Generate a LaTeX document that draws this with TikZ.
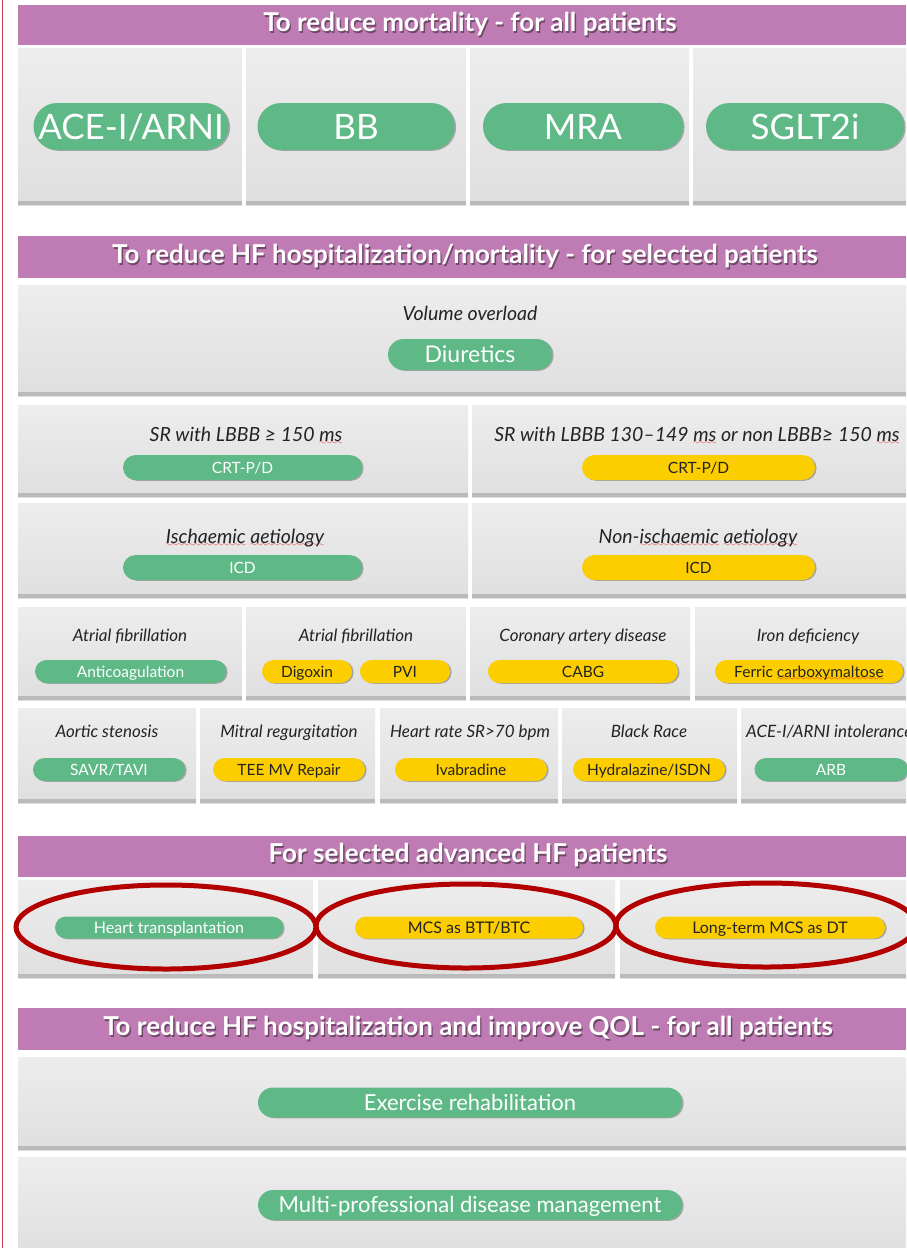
\documentclass[tikz,border=0pt]{standalone}
\usepackage{fontspec}
\setmainfont{Lato}
\usepackage{tikz}
\usetikzlibrary{positioning,fit,shapes.geometric,shadows}

\definecolor{hdrpurple}{RGB}{191,123,179}
\definecolor{hdrshade}{RGB}{112,72,104}
\definecolor{pillgreen}{RGB}{94,185,135}
\definecolor{pillyellow}{RGB}{252,206,0}
\definecolor{cellhi}{RGB}{237,237,237}
\definecolor{celllo}{RGB}{223,223,223}
\definecolor{celledge}{RGB}{186,186,186}
\definecolor{ringred}{RGB}{178,0,0}
\definecolor{sidered}{RGB}{200,60,70}
\definecolor{labgrey}{RGB}{35,35,35}
\definecolor{squig}{RGB}{225,0,0}

% red spell-check wave under a word
\font\wavefont=lasy7
\newcommand\spellmark[1]{\setbox0\hbox{#1}%
  \rlap{\textcolor{squig}{\lower3pt\hbox to\wd0{\xleaders\hbox{\wavefont\char58}\hfill}}}\box0\relax}
% header text with a soft dark shadow
\newcommand\hdrtext[1]{\makebox[0pt][l]{\kern1.3pt\raisebox{-1.5pt}{\textcolor{hdrshade}{#1}}}#1}

\begin{document}
\begin{tikzpicture}[
  x=1pt,y=-1pt,
  hdr/.style={fill=hdrpurple,inner sep=0pt},
  htxt/.style={font=\fontsize{26}{30}\selectfont\bfseries,text=white,inner sep=0pt},
  cell/.style={inner sep=0pt,top color=cellhi,bottom color=celllo,
               path picture={\fill[celledge] (path picture bounding box.south west)
                 rectangle ([yshift=4pt]path picture bounding box.south east);}},
  lab/.style={font=\fontsize{17}{20}\selectfont\itshape,text=labgrey,
              inner sep=0pt,anchor=base},
  biglab/.style={font=\fontsize{19.5}{23}\selectfont\itshape},
  pill/.style={rectangle,rounded corners=12.5pt,inner sep=0pt,minimum height=25pt,
               text height=11pt,text depth=0pt,font=\fontsize{15.5}{18}\selectfont,
               drop shadow={shadow xshift=1.6pt,shadow yshift=-0.8pt,
                            fill=black!60,opacity=0.5}},
  gpill/.style={pill,fill=pillgreen,text=white},
  ypill/.style={pill,fill=pillyellow,text=labgrey},
  bigpill/.style={minimum height=47pt,rounded corners=23.5pt,text height=25pt,
                  font=\fontsize{35}{40}\selectfont},
  midpill/.style={minimum height=31pt,rounded corners=15.5pt,text height=16.5pt,
                  font=\fontsize{23}{27}\selectfont},
  smallpill/.style={minimum height=23pt,rounded corners=11.5pt},
  advpill/.style={minimum height=22pt,rounded corners=11pt,text height=11.5pt,
                  font=\fontsize{16}{19}\selectfont},
  qolpill/.style={minimum height=30pt,rounded corners=15pt,text height=15.8pt,
                  font=\fontsize{22}{26}\selectfont},
  ring/.style={ellipse,draw=ringred,line width=5pt,minimum width=300pt,
               minimum height=84pt}
]
\useasboundingbox[fill=white] (0,0) rectangle (906,1248);
\draw[sidered,line width=1.5pt] (2.5,0) -- (2.5,1248);

% --- to reduce mortality
\node[hdr,fit={(18,5) (906,45)}] (hmort) {};
\node[htxt] (tmort) at (470,25) {\hdrtext{To reduce mortality - for all patients}};
\node[cell,fit={(18,48) (242,205)}]  (cace)  {};
\node[cell,fit={(246,48) (466,205)}] (cbb)   {};
\node[cell,fit={(470,48) (689,205)}] (cmra)  {};
\node[cell,fit={(693,48) (906,205)}] (csglt) {};
\node[gpill,bigpill,minimum width=195] (pace)  at (131,126.5) {ACE-I/ARNI};
\node[gpill,bigpill,minimum width=197] (pbb)   at (356,126.5) {BB};
\node[gpill,bigpill,minimum width=200] (pmra)  at (583,126.5) {MRA};
\node[gpill,bigpill,minimum width=198] (psglt) at (805,126.5) {SGLT2i};

% --- selected patients
\node[hdr,fit={(18,236) (906,278)}] (hsel) {};
\node[htxt] (tsel) at (465,257) {\hdrtext{To reduce HF hospitalization/mortality - for selected patients}};
\node[cell,fit={(18,285) (906,396)}] (cvol) {};
\node[lab,biglab] (lvol) at (470,320) {Volume overload};
\node[gpill,midpill,minimum width=164] (pdiu) at (470,354.5) {Diuretics};

\node[cell,fit={(18,405) (468,497)}]  (clbbb)  {};
\node[cell,fit={(472,405) (906,497)}] (cnlbbb) {};
\node[lab,biglab] (llbbb)  at (246,441) {SR with LBBB ≥ 150 \spellmark{ms}};
\node[lab,biglab] (lnlbbb) at (697,441) {SR with LBBB 130–149 \spellmark{ms} or non LBBB≥ 150 \spellmark{ms}};
\node[gpill,minimum width=239] (pcrt)  at (242.5,467.5) {CRT-P/D};
\node[ypill,minimum width=233] (pcrtb) at (698.5,467.5) {CRT-P/D};

\node[cell,fit={(18,503) (468,598)}]  (cisch)  {};
\node[cell,fit={(472,503) (906,598)}] (cnisch) {};
\node[lab,biglab] (lisch)  at (245,543) {\spellmark{Ischaemic} \spellmark{aetiology}};
\node[lab,biglab] (lnisch) at (698,543) {Non-\spellmark{ischaemic} \spellmark{aetiology}};
\node[gpill,minimum width=239] (picd)  at (242.5,567.5) {ICD};
\node[ypill,minimum width=233] (picdb) at (698.5,567.5) {ICD};

\node[cell,fit={(18,607) (242,700)}]  (caf)   {};
\node[cell,fit={(246,607) (466,700)}] (cafb)  {};
\node[cell,fit={(470,607) (690,700)}] (ccad)  {};
\node[cell,fit={(695,607) (906,700)}] (ciron) {};
\node[lab] (laf)   at (130,641) {Atrial fibrillation};
\node[lab] (lafb)  at (356,641) {Atrial fibrillation};
\node[lab] (lcad)  at (583,641) {Coronary artery disease};
\node[lab] (liron) at (808,641) {Iron deficiency};
\node[gpill,smallpill,minimum width=191] (panti) at (130.5,671.5) {Anticoagulation};
\node[ypill,smallpill,minimum width=90]  (pdig)  at (307,671.5) {Digoxin};
\node[ypill,smallpill,minimum width=90]  (ppvi)  at (405,671.5) {PVI};
\node[ypill,smallpill,minimum width=190] (pcabg) at (583,671.5) {CABG};
\node[ypill,smallpill,minimum width=188] (pfcm)  at (809,671.5) {Ferric \spellmark{carboxymaltose}};

\node[cell,fit={(18,708) (196,803)}]  (cas)  {};
\node[cell,fit={(200,708) (375,803)}] (cmr)  {};
\node[cell,fit={(380,708) (558,803)}] (chr)  {};
\node[cell,fit={(562,708) (737,803)}] (cbr)  {};
\node[cell,fit={(741,708) (906,803)}] (cint) {};
\node[lab] (las)  at (107,737) {Aortic stenosis};
\node[lab] (lmr)  at (289,737) {Mitral regurgitation};
\node[lab] (lhr)  at (470,737) {Heart rate SR>70 bpm};
\node[lab] (lbr)  at (649,737) {Black Race};
\node[lab,anchor=base west] (lint) at (746,737) {ACE-I/ARNI intolerance};
\node[gpill,smallpill,minimum width=152] (psavr) at (109,769.5) {SAVR/TAVI};
\node[ypill,smallpill,minimum width=152] (ptee)  at (289,769.5) {TEE MV Repair};
\node[ypill,smallpill,minimum width=152] (pivab) at (471,769.5) {Ivabradine};
\node[ypill,smallpill,minimum width=152] (phyd)  at (649,769.5) {Hydralazine/ISDN};
\node[gpill,smallpill,minimum width=153] (parb)  at (831,769.5) {ARB};

% --- advanced HF
\node[hdr,fit={(18,836) (906,877)}] (hadv) {};
\node[htxt] (tadv) at (468,856) {\hdrtext{For selected  advanced HF patients}};
\node[cell,fit={(18,880) (313,978)}]  (chtx) {};
\node[cell,fit={(318,880) (615,978)}] (cbtt) {};
\node[cell,fit={(620,880) (906,978)}] (cdt)  {};
\node[gpill,advpill,minimum width=228] (phtx) at (169,927.5) {Heart transplantation};
\node[ypill,advpill,minimum width=228] (pbtt) at (469,927.5) {MCS as BTT/BTC};
\node[ypill,advpill,minimum width=230] (pdt)  at (770,927.5) {Long-term MCS as DT};
\node[ring] (rhtx) at (166,927) {};
\node[ring] (rbtt) at (466,926) {};
\node[ring] (rdt)  at (766,925) {};

% --- QOL
\node[hdr,fit={(18,1008) (906,1050)}] (hqol) {};
\node[htxt] (tqol) at (468,1029) {\hdrtext{To reduce HF hospitalization  and improve QOL - for all patients}};
\node[cell,fit={(18,1057) (906,1150)}] (crehab) {};
\node[cell,fit={(18,1157) (906,1256)}] (cmgmt)  {};
\node[gpill,qolpill,minimum width=424] (prehab) at (470,1102.5) {Exercise rehabilitation};
\node[gpill,qolpill,minimum width=424] (pmgmt)  at (470,1205) {Multi-professional disease management};
\end{tikzpicture}
\end{document}
